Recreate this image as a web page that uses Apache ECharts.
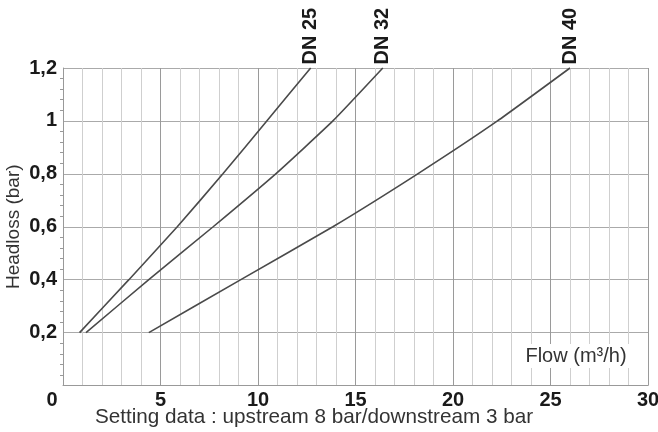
<!DOCTYPE html>
<html><head><meta charset="utf-8">
<script src="https://cdn.jsdelivr.net/npm/echarts@6/dist/echarts.min.js"></script>
<style>html,body{margin:0;padding:0;background:#fff}#c{width:658px;height:432px}</style>
</head><body><div id="c"></div>
<script>
const headloss = [0.2, 0.4, 0.6, 0.8, 1.0, 1.2];
const flowDN25 = [0.85, 3.38, 5.86, 8.2, 10.45, 12.7];
const flowDN32 = [1.18, 4.4, 7.7, 10.91, 13.84, 16.4];
const flowDN40 = [4.4, 9.12, 13.84, 18.19, 22.28, 26.0];
const seriesNames = ['DN 25', 'DN 32', 'DN 40'];
const xTicks = [0, 5, 10, 15, 20, 25, 30];
const yTicks = [0, 0.2, 0.4, 0.6, 0.8, 1.0, 1.2];
const xTitle = 'Flow (m³/h)';
const yTitle = 'Headloss (bar)';
const note = 'Setting data : upstream 8 bar/downstream 3 bar';

const FONT = '"Liberation Sans", Arial, Helvetica, sans-serif';
const chart = echarts.init(document.getElementById('c'), null, {renderer: 'canvas'});

function mk(name, flows) {
  const last = flows.length - 1;
  const data = flows.map((q, i) => {
    const item = {value: [q, headloss[i]]};
    if (i === last) {
      item.symbol = 'circle';
      item.symbolSize = 1;
      item.label = {
        show: true, formatter: name, position: 'top', distance: 3,
        rotate: 90, align: 'left', verticalAlign: 'middle',
        fontFamily: FONT, fontWeight: 'bold', fontSize: 20, color: '#1a1a1a'
      };
    } else {
      item.symbol = 'none';
    }
    return item;
  });
  return {
    type: 'line', name, data, smooth: 0.15, showSymbol: true, showAllSymbol: true, clip: false,
    itemStyle: {color: 'rgba(0,0,0,0)', borderWidth: 0},
    lineStyle: {color: '#4a4a4a', width: 1.6}, silent: true
  };
}

chart.setOption({
  animation: false,
  grid: {left: 63, right: 10, top: 68, bottom: 46.5, containLabel: false, outerBoundsMode: 'none'},
  xAxis: {
    type: 'value', min: xTicks[0], max: xTicks[xTicks.length - 1], interval: 5,
    axisLine: {show: true, lineStyle: {color: '#999', width: 1}},
    axisTick: {show: false},
    minorTick: {show: false, splitNumber: 5},
    splitLine: {show: true, lineStyle: {color: '#9a9a9a', width: 1}},
    minorSplitLine: {show: true, lineStyle: {color: '#cfcfcf', width: 1}},
    axisLabel: {
      margin: 5, fontFamily: FONT, fontWeight: 'bold', fontSize: 20, color: '#1a1a1a',
      formatter: v => v === 0 ? '{z|0}' : String(v),
      rich: {z: {padding: [0, 22, 0, 0], fontFamily: FONT, fontWeight: 'bold', fontSize: 20, color: '#1a1a1a'}}
    }
  },
  yAxis: {
    type: 'value', min: yTicks[0], max: yTicks[yTicks.length - 1], interval: 0.2,
    name: yTitle, nameLocation: 'middle', nameRotate: 90, nameGap: 40, nameMoveOverlap: false,
    nameTextStyle: {fontFamily: FONT, fontSize: 19, color: '#333'},
    axisLine: {show: true, lineStyle: {color: '#999', width: 1}},
    axisTick: {show: false},
    minorTick: {show: true, splitNumber: 5, length: 3, lineStyle: {color: '#999'}},
    splitLine: {show: true, lineStyle: {color: '#aaa', width: 1}},
    axisLabel: {
      margin: 6, fontFamily: FONT, fontWeight: 'bold', fontSize: 20, color: '#1a1a1a',
      formatter: v => v === 0 ? '' : String(+v.toFixed(1)).replace('.', ',')
    }
  },
  graphic: [
    {type: 'text', x: 576, y: 356, z: 50,
     style: {text: xTitle, align: 'center', verticalAlign: 'middle', font: '20px ' + FONT,
             fill: '#333', backgroundColor: '#fff', padding: [2, 3]}},
    {type: 'text', x: 314, y: 417, z: 50,
     style: {text: note, align: 'center', verticalAlign: 'middle', font: '20.7px ' + FONT, fill: '#333'}}
  ],
  series: [mk(seriesNames[0], flowDN25), mk(seriesNames[1], flowDN32), mk(seriesNames[2], flowDN40)]
});
</script></body></html>
